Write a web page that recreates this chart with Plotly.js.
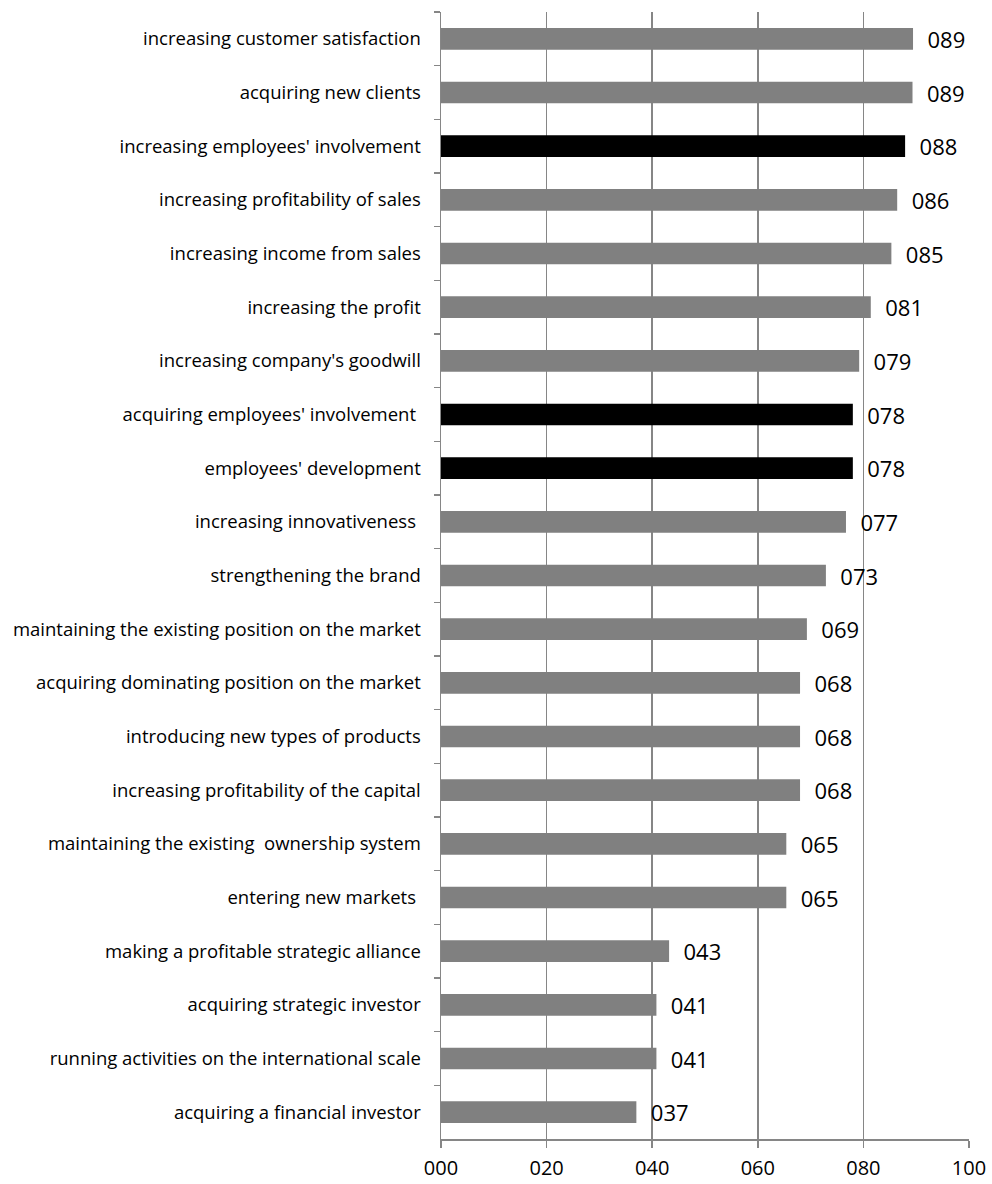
<!DOCTYPE html>
<html>
<head>
<meta charset="utf-8">
<script src="https://cdn.plot.ly/plotly-3.0.1.min.js"></script>
<style>html,body{margin:0;padding:0;background:#fff;}#chart{width:992px;height:1184px;}</style>
</head>
<body>
<div id="chart"></div>
<script>
const categories = [
  "increasing customer satisfaction",
  "acquiring new clients",
  "increasing employees' involvement",
  "increasing profitability of sales",
  "increasing income from sales",
  "increasing the profit",
  "increasing company's goodwill",
  "acquiring employees' involvement ",
  "employees' development",
  "increasing innovativeness ",
  "strengthening the brand",
  "maintaining the existing position on the market",
  "acquiring dominating position on the market",
  "introducing new types of products",
  "increasing profitability of the capital",
  "maintaining the existing  ownership system",
  "entering new markets ",
  "making a profitable strategic alliance",
  "acquiring strategic investor",
  "running activities on the international scale",
  "acquiring a financial investor"
];
const values = [89.4, 89.3, 87.9, 86.4, 85.3, 81.4, 79.2, 78.0, 78.0, 76.7, 72.9, 69.3, 68.0, 68.0, 68.0, 65.4, 65.4, 43.2, 40.8, 40.8, 37.0];
const highlighted = ["increasing employees' involvement", "acquiring employees' involvement ", "employees' development"];
const tickValues = [0, 20, 40, 60, 80, 100];

const barColors = categories.map(c => highlighted.includes(c) ? "#000000" : "#808080");
const labelCats = categories.map(c => c.replace(/ /g, "\u00a0"));

const trace = {
  type: "bar",
  orientation: "h",
  x: values,
  y: labelCats,
  marker: {color: barColors, line: {width: 0}},
  text: values,
  texttemplate: "\u00a0\u00a0%{x:03.0f}",
  textposition: "outside",
  constraintext: "none",
  cliponaxis: false,
  textfont: {family: "Open Sans, sans-serif", size: 22, color: "#000000"},
  hoverinfo: "none"
};

const layout = {
  width: 992,
  height: 1184,
  margin: {l: 441, r: 23, t: 12, b: 45},
  paper_bgcolor: "#ffffff",
  plot_bgcolor: "#ffffff",
  showlegend: false,
  bargap: 0.596,
  font: {family: "Open Sans, sans-serif", color: "#000000"},
  xaxis: {
    range: [0, 100],
    tickvals: tickValues,
    tickformat: "03d",
    showgrid: true,
    gridcolor: "#868686",
    gridwidth: 1.5,
    zeroline: false,
    showline: true,
    linecolor: "#868686",
    linewidth: 1.5,
    ticks: "outside",
    ticklen: 7,
    tickwidth: 1.5,
    tickcolor: "#868686",
    ticklabelstandoff: 3,
    tickfont: {family: "Open Sans, sans-serif", size: 20, color: "#000000"},
    fixedrange: true
  },
  yaxis: {
    type: "category",
    categoryorder: "array",
    categoryarray: labelCats,
    autorange: "reversed",
    showgrid: false,
    zeroline: false,
    showline: true,
    linecolor: "#868686",
    linewidth: 1.5,
    ticks: "outside",
    tickson: "boundaries",
    ticklen: 6,
    tickwidth: 1.5,
    tickcolor: "#868686",
    ticklabelstandoff: 15,
    tickfont: {family: "Open Sans, sans-serif", size: 18.5, color: "#000000"},
    fixedrange: true
  }
};

Plotly.newPlot("chart", [trace], layout, {displayModeBar: false, staticPlot: true});
</script>
</body>
</html>
